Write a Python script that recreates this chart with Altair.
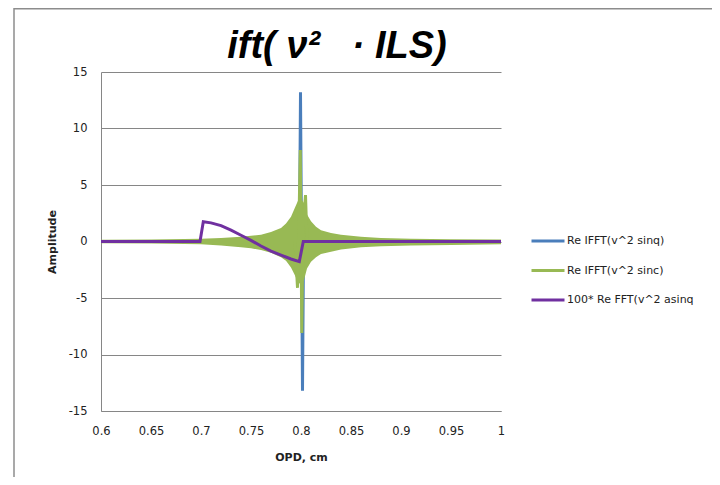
import altair as alt
import pandas as pd

# ---- data ----
series_names = ["Re  IFFT(v^2 sinq)", "Re  IFFT(v^2 sinc)", "100* Re  FFT(v^2 asinq"]
colors = ["#4a7ebb", "#98b954", "#7030a0"]
title_text = "ift(\u00a0\u03bd\u00b2\u00a0\u00a0\u00a0\u00b7\u00a0ILS)"

blue_x = [0.6, 0.797, 0.7985, 0.7995, 0.8015, 0.8025, 0.804, 1.0]
blue_y = [0.0, 0.0, 0.5, 13.2, -13.2, -0.5, 0.0, 0.0]

green_env_x = [0.6, 0.65, 0.7, 0.72, 0.74, 0.75, 0.76, 0.77, 0.78, 0.785, 0.79, 0.794, 0.797,
               0.8, 0.803, 0.806, 0.81, 0.815, 0.82, 0.83, 0.84, 0.86, 0.88, 0.91, 0.95, 1.0]
green_env_hi = [0.15, 0.18, 0.25, 0.3, 0.42, 0.5, 0.6, 0.85, 1.2, 1.6, 2.2, 3.0, 3.6,
                3.8, 3.4, 2.4, 1.8, 1.3, 1.0, 0.75, 0.6, 0.42, 0.32, 0.25, 0.2, 0.18]
green_env_lo = [-0.15, -0.18, -0.25, -0.35, -0.5, -0.6, -0.75, -1.0, -1.4, -1.7, -2.3, -3.0, -3.6,
                -3.8, -3.4, -2.4, -1.8, -1.4, -1.1, -0.9, -0.7, -0.5, -0.42, -0.35, -0.3, -0.25]

green_x = [0.794, 0.7965, 0.798, 0.7993, 0.8008, 0.802, 0.8045, 0.806]
green_y = [0.0, -4.1, 2.0, 8.1, -8.1, 1.0, 4.1, 0.0]

purple_x = [0.6, 0.699, 0.7023, 0.71, 0.72, 0.73, 0.74, 0.75, 0.76, 0.77, 0.78, 0.79, 0.7983, 0.8023, 1.0]
purple_y = [0.0, 0.0, 1.75, 1.65, 1.4, 1.0, 0.55, 0.1, -0.4, -0.85, -1.2, -1.55, -1.78, 0.0, 0.0]

x_ticks = [0.6, 0.65, 0.7, 0.75, 0.8, 0.85, 0.9, 0.95, 1.0]
y_ticks = [-15, -10, -5, 0, 5, 10, 15]

blue_df = pd.DataFrame({"x": blue_x, "y": blue_y, "series": series_names[0]})
green_df = pd.DataFrame({"x": green_x, "y": green_y, "series": series_names[1]})
purple_df = pd.DataFrame({"x": purple_x, "y": purple_y, "series": series_names[2]})
env_df = pd.DataFrame({"x": green_env_x, "hi": green_env_hi, "lo": green_env_lo})

FONT = "DejaVu Sans"
GRID = "#868686"

xs = alt.Scale(domain=[0.6, 1.0], nice=False, zero=False)
ys = alt.Scale(domain=[-15, 15], nice=False)
cs = alt.Scale(domain=series_names, range=colors)

x_axis = alt.Axis(values=x_ticks, title="OPD, cm", grid=False, ticks=False, format=".2~f",
                  domainColor=GRID, labelFont=FONT, labelFontSize=11.5, labelColor="#222",
                  labelPadding=14, titleFont=FONT, titleFontSize=11, titleFontWeight="bold",
                  titleColor="#222", titlePadding=15, labelFlush=False)
y_axis = alt.Axis(values=y_ticks, title="Amplitude", grid=True, gridColor=GRID, ticks=False,
                  domainColor=GRID, labelFont=FONT, labelFontSize=11.5, labelColor="#222",
                  labelExpr="datum.value < 0 ? '-' + abs(datum.value) : '' + datum.value",
                  labelPadding=14, titleFont=FONT, titleFontSize=11, titleFontWeight="bold",
                  titleColor="#222", titlePadding=11)

legend = alt.Legend(title=None, orient="none", legendX=429, legendY=151,
                    symbolType="stroke", symbolSize=1089, symbolStrokeWidth=3,
                    labelFont=FONT, labelFontSize=11, labelColor="#222", rowPadding=5.5,
                    labelOffset=1, labelLimit=300)

blue = alt.Chart(blue_df).mark_line(strokeWidth=3).encode(
    x=alt.X("x:Q", scale=xs, axis=x_axis),
    y=alt.Y("y:Q", scale=ys, axis=y_axis),
    color=alt.Color("series:N", scale=cs, legend=legend, sort=series_names),
)
band = alt.Chart(env_df).mark_area(color=colors[1], opacity=1, interpolate="linear").encode(
    x=alt.X("x:Q", scale=xs), y=alt.Y("hi:Q", scale=ys), y2="lo:Q"
)
green = alt.Chart(green_df).mark_line(strokeWidth=3).encode(
    x=alt.X("x:Q", scale=xs), y=alt.Y("y:Q", scale=ys),
    color=alt.Color("series:N", scale=cs, legend=legend, sort=series_names),
)
purple = alt.Chart(purple_df).mark_line(strokeWidth=3).encode(
    x=alt.X("x:Q", scale=xs), y=alt.Y("y:Q", scale=ys),
    color=alt.Color("series:N", scale=cs, legend=legend, sort=series_names),
)

one_df = pd.DataFrame({"t": [title_text]})
frame_top = alt.Chart(one_df).mark_rule(color="#8c8c8c", strokeWidth=1.5).encode(
    x=alt.value(-87), x2=alt.value(620), y=alt.value(-63.3))
frame_left = alt.Chart(one_df).mark_rule(color="#8c8c8c", strokeWidth=1.5).encode(
    x=alt.value(-87), y=alt.value(-64), y2=alt.value(420))
title = alt.Chart(one_df).mark_text(font="Liberation Sans", fontSize=38, fontWeight="bold",
                                    fontStyle="italic", color="#000", align="center",
                                    baseline="alphabetic").encode(
    text="t:N", x=alt.value(236), y=alt.value(-14))

chart = alt.layer(frame_top, frame_left, title, blue, band, green, purple).properties(
    width=400, height=339,
    autosize=alt.AutoSizeParams(type="none"),
    padding={"left": 93, "top": 64, "right": 211, "bottom": 66},
).configure_view(stroke=None)

chart.save("out.html", embed_options={"renderer": "svg", "actions": False})
